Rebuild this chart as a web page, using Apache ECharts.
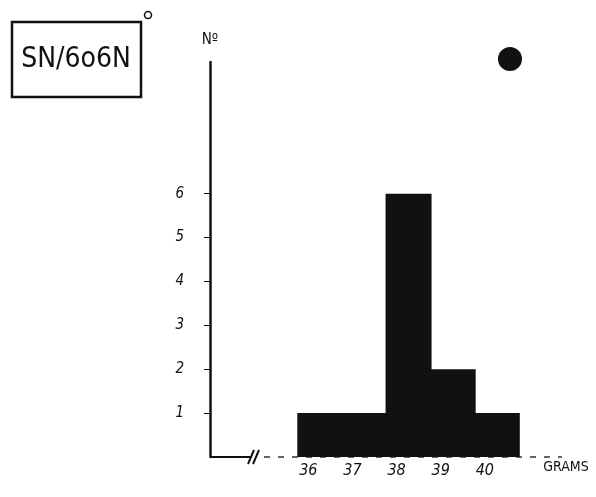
<!DOCTYPE html>
<html>
<head>
<meta charset="utf-8">
<script src="https://cdn.jsdelivr.net/npm/echarts@6/dist/echarts.min.js"></script>
<style>
html,body{margin:0;padding:0;background:#fff;}
#chart{width:596px;height:497px;}
</style>
</head>
<body>
<div id="chart"></div>
<script>
// ---- data ----
var categories = ['34', '35', '36', '37', '38', '39', '40', '41'];
var counts = [null, null, 1, 1, 6, 2, 1, null];
var shownLabels = ['36', '37', '38', '39', '40'];
var yTickValues = [1, 2, 3, 4, 5, 6];
var yLabelTexts = ['1', '2', '3', '4', '5', '6'];
var boxTitle = 'SN/6o6N';
var xName = 'GRAMS';
var yName = 'Nº';

// ---- layout ----
var GL = 210, GR = 33, GT = 62, GB = 40, W = 596, H = 497;
var baseY = H - GB;
var FONT = "'Liberation Sans Narrow','DejaVu Sans Condensed',sans-serif";

var chart = echarts.init(document.getElementById('chart'), null, {renderer: 'canvas'});
var option = {
  backgroundColor: '#ffffff',
  animation: false,
  grid: {left: GL, right: GR, top: GT, bottom: GB},
  xAxis: {
    type: 'category',
    data: categories,
    boundaryGap: true,
    axisLine: {show: false},
    axisTick: {show: false},
    axisLabel: {
      interval: 0,
      margin: 6,
      color: '#111',
      fontFamily: FONT,
      fontSize: 16,
      fontStyle: 'italic',
      padding: [0, 24, 0, 0],
      formatter: function (v) { return shownLabels.indexOf(v) >= 0 ? v : ''; }
    },
    splitLine: {show: false}
  },
  yAxis: {
    type: 'value',
    min: 0,
    max: 9,
    interval: 1,
    name: yName,
    nameLocation: 'end',
    nameGap: 14,
    nameTextStyle: {color: '#111', fontFamily: FONT, fontSize: 15, align: 'center'},
    axisLine: {show: true, lineStyle: {color: '#111', width: 2.5}},
    axisTick: {show: true, length: 6, lineStyle: {color: '#111', width: 1}, customValues: yTickValues},
    axisLabel: {
      margin: 26,
      color: '#111',
      fontFamily: FONT,
      fontSize: 15,
      fontStyle: 'italic',
      customValues: yTickValues,
      formatter: function (v) { var i = yTickValues.indexOf(v); return i >= 0 ? yLabelTexts[i] : ''; }
    },
    splitLine: {show: false}
  },
  series: [{
    type: 'bar',
    data: counts,
    barWidth: 46,
    barGap: '-100%',
    itemStyle: {color: '#111111', borderWidth: 0}
  }],
  graphic: [
    // title box
    {type: 'rect', shape: {x: 12, y: 22, width: 129, height: 75},
      style: {fill: 'none', stroke: '#111', lineWidth: 2.5}},
    {type: 'text', x: 76, y: 60,
      style: {text: boxTitle, fill: '#111', font: '28px ' + FONT, align: 'center', verticalAlign: 'middle'}},
    {type: 'circle', shape: {cx: 148, cy: 15, r: 3.5},
      style: {fill: 'none', stroke: '#111', lineWidth: 1.5}},
    // black dot
    {type: 'circle', shape: {cx: 510, cy: 59, r: 12}, style: {fill: '#111'}},
    // x-axis baseline: solid part, break marks, dashed remainder
    {type: 'line', shape: {x1: GL, y1: baseY, x2: 252, y2: baseY},
      style: {stroke: '#111', lineWidth: 2}},
    {type: 'line', shape: {x1: 248, y1: 464, x2: 254, y2: 450}, style: {stroke: '#111', lineWidth: 2}},
    {type: 'line', shape: {x1: 253, y1: 464, x2: 259, y2: 450}, style: {stroke: '#111', lineWidth: 2}},
    {type: 'line', shape: {x1: 264, y1: baseY, x2: 562, y2: baseY},
      style: {stroke: '#333', lineWidth: 1.5, lineDash: [6, 8]}, z: -1},
    // x axis name
    {type: 'text', x: 566, y: 467,
      style: {text: xName, fill: '#111', font: '14px ' + FONT, align: 'center', verticalAlign: 'middle'}}
  ]
};
chart.setOption(option);
</script>
</body>
</html>
